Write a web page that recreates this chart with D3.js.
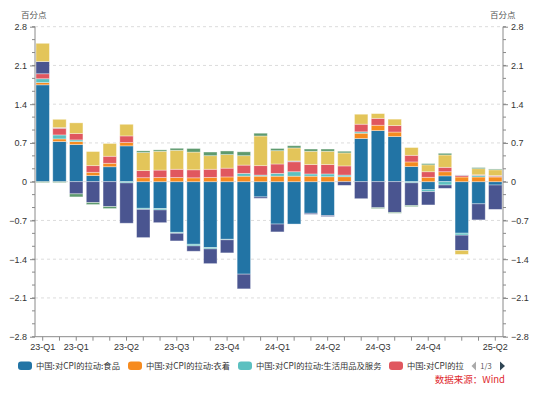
<!DOCTYPE html>
<html><head><meta charset="utf-8">
<script src="https://cdn.jsdelivr.net/npm/d3@7/dist/d3.min.js"></script>
<style>
html,body{margin:0;padding:0;background:#fff;}
svg{display:block;font-family:"Noto Sans CJK SC","Noto Sans",sans-serif;}
</style></head>
<body><svg id="c" width="537" height="394"></svg>
<script>
const categories = ["2023-01","2023-02","2023-03","2023-04","2023-05","2023-06","2023-07","2023-08","2023-09","2023-10","2023-11","2023-12",
  "2024-01","2024-02","2024-03","2024-04","2024-05","2024-06","2024-07","2024-08","2024-09","2024-10","2024-11","2024-12",
  "2025-01","2025-02","2025-03","2025-04"];
const tickLabelIndex = [0,2,5,8,11,14,17,20,23,27];
const tickLabelText = ["23-Q1","23-Q1","23-Q2","23-Q3","23-Q4","24-Q1","24-Q2","24-Q3","24-Q4","25-Q2"];
const yTicks = [-2.8,-2.1,-1.4,-0.7,0,0.7,1.4,2.1,2.8];

const seriesNames = ["中国:对CPI的拉动:食品","中国:对CPI的拉动:衣着","中国:对CPI的拉动:生活用品及服务","中国:对CPI的拉动:医疗保健",
  "中国:对CPI的拉动:其他用品和服务","中国:对CPI的拉动:交通和通信","中国:对CPI的拉动:教育文化和娱乐","中国:对CPI的拉动:居住"];
const seriesColors = ["#2274a5","#f68b1f","#5cc0c0","#e0575f","#a08aa6","#4a5590","#e3c55a","#5e9a6e"];

const food      = [1.75,0.725,0.67,0.11,0.27,0.647,-0.48,-0.485,-0.914,-1.13,-1.19,-1.04,-1.67,-0.275,-0.765,-0.765,-0.57,-0.61,0,0.78,0.923,0.815,0.273,-0.145,0.105,-0.93,-0.4,-0.06];
const clothing  = [0.04,0.048,0.055,0.06,0.063,0.06,0.072,0.075,0.075,0.07,0.078,0.086,0.1,0.1,0.1,0.1,0.1,0.09,0.09,0.096,0.097,0.082,0.084,0.08,0.075,0.085,0.085,0.085];
const household = [0.07,0.072,0.03,0,0,-0.022,-0.02,-0.025,-0.018,-0.03,-0.024,-0.01,0.05,0.02,0.05,0.08,0.04,0.05,0.03,0.025,0,0,-0.02,-0.035,-0.06,-0.036,0.03,0];
const medical   = [0.09,0.12,0.115,0.12,0.127,0.12,0.128,0.135,0.15,0.145,0.147,0.159,0.15,0.17,0.17,0.18,0.17,0.17,0.165,0.138,0.125,0.118,0.12,0.1,0.08,0.025,0.01,0.015];
const others    = [0,0.012,0,0,0,0,0,0,0,0,0,0,0,0,0,0.015,0,0,0,0,0,0,0,0,0,0.012,0,0.01];
const transport = [0.22,0,-0.22,-0.377,-0.45,-0.728,-0.51,-0.23,-0.138,-0.096,-0.266,-0.236,-0.266,-0.025,-0.142,0,-0.02,-0.02,-0.066,-0.307,-0.47,-0.554,-0.41,-0.24,-0.06,-0.275,-0.29,-0.44];
const education = [0.33,0.15,0.193,0.255,0.23,0.21,0.327,0.34,0.343,0.32,0.245,0.245,0.17,0.536,0.24,0.235,0.24,0.24,0.235,0.18,0.085,0.115,0.14,0.125,0.223,-0.072,0.11,0.105];
const housing   = [-0.015,-0.015,-0.055,-0.036,-0.035,0,0.03,0.025,0.036,0.065,0.066,0.065,0.07,0.05,0.04,0.04,0.04,0.04,0.03,0,-0.015,-0.016,-0.02,0.022,0.03,0,0.02,0.015];
const seriesValues = [food,clothing,household,medical,others,transport,education,housing];

const svg = d3.select("#c");
const L = 35, R = 503, T = 26.7, B = 336.7;
const x = d3.scaleBand().domain(d3.range(categories.length)).range([L, R]).paddingInner(0.2).paddingOuter(0.06);
const y = d3.scaleLinear().domain([-2.8, 2.8]).range([B, T]);
const axisCol = "#8a8a8a", txtCol = "#333";

// grid
svg.append("g").selectAll("line").data(yTicks.filter(v => v !== -2.8)).join("line")
  .attr("x1", L).attr("x2", R).attr("y1", d => y(d)).attr("y2", d => y(d))
  .attr("stroke", "#dcdcdc").attr("stroke-width", 1).attr("stroke-dasharray", "3,3");

// stacked bars
const stacks = [];
categories.forEach((c, i) => {
  let pos = 0, neg = 0;
  seriesValues.forEach((arr, s) => {
    const v = arr[i];
    if (!v) return;
    if (v > 0) { stacks.push({i, s, y0: pos, y1: pos + v}); pos += v; }
    else { stacks.push({i, s, y0: neg, y1: neg + v}); neg += v; }
  });
});
svg.append("g").selectAll("rect").data(stacks).join("rect")
  .attr("x", d => x(d.i)).attr("width", x.bandwidth())
  .attr("y", d => y(Math.max(d.y0, d.y1)))
  .attr("height", d => Math.abs(y(d.y0) - y(d.y1)))
  .attr("fill", d => seriesColors[d.s])
  .attr("stroke", "rgba(255,255,255,0.45)").attr("stroke-width", 0.8);

// left axis
const minor = d3.range(-2.8, 2.8001, 0.7 / 3).map(v => +v.toFixed(4));
const yl = svg.append("g").attr("transform", `translate(${L},0)`)
  .call(d3.axisLeft(y).tickValues(yTicks).tickSize(5).tickPadding(3).tickFormat(d => d === 0 ? "0" : d3.format(".1f")(d)));
yl.append("g").selectAll("line").data(minor).join("line").attr("x1", 0).attr("x2", -3).attr("y1", d => y(d)).attr("y2", d => y(d)).attr("stroke", axisCol);
const yr = svg.append("g").attr("transform", `translate(${R},0)`)
  .call(d3.axisRight(y).tickValues(yTicks).tickSize(5).tickPadding(3).tickFormat(d => d === 0 ? "0" : d3.format(".1f")(d)));
yr.append("g").selectAll("line").data(minor).join("line").attr("x1", 0).attr("x2", 3).attr("y1", d => y(d)).attr("y2", d => y(d)).attr("stroke", axisCol);
[yl, yr].forEach(g => {
  g.select(".domain").attr("stroke", axisCol).attr("d", g === yl ? `M0,${T}V${B}` : `M0,${T}V${B}`);
  g.selectAll(".tick line").attr("stroke", axisCol);
  g.selectAll("text").attr("fill", txtCol).attr("font-size", 9);
});

// x axis
const xa = svg.append("g").attr("transform", `translate(0,${B})`)
  .call(d3.axisBottom(x).tickSize(4).tickPadding(3).tickFormat(i => {
    const k = tickLabelIndex.indexOf(i); return k >= 0 ? tickLabelText[k] : "";
  }));
xa.select(".domain").attr("stroke", axisCol).attr("d", `M${L},0H${R}`);
xa.selectAll(".tick line").attr("stroke", axisCol);
xa.selectAll("text").attr("fill", txtCol).attr("font-size", 9);

// unit titles
svg.append("text").attr("x", 21).attr("y", 18).attr("font-size", 8.5).attr("fill", "#555").text("百分点");
svg.append("text").attr("x", 490).attr("y", 18).attr("font-size", 8.5).attr("fill", "#555").text("百分点");

// legend (page 1 of 3)
const legX = [18, 128, 238, 389];
const lg = svg.append("g");
seriesNames.slice(0, 4).forEach((n, k) => {
  lg.append("rect").attr("x", legX[k]).attr("y", 361.5).attr("width", 14).attr("height", 8.5).attr("rx", 3).attr("fill", seriesColors[k]);
  const label = k === 3 ? "中国:对CPI的拉" : n;
  lg.append("text").attr("x", legX[k] + 18).attr("y", 369).attr("font-size", 8.3).attr("fill", "#333").text(label);
});
lg.append("path").attr("d", "M476,361.5L476,370.5L471.5,366Z").attr("fill", "#aaa");
lg.append("text").attr("x", 486).attr("y", 369).attr("font-size", 7.5).attr("fill", "#555").attr("text-anchor", "middle").text("1/3");
lg.append("path").attr("d", "M500,361.5L500,370.5L505,366Z").attr("fill", "#2f4554");

svg.append("text").attr("x", 505).attr("y", 383).attr("text-anchor", "end").attr("font-size", 9.5).attr("fill", "#e0282e").text("数据来源：Wind");
</script></body></html>
